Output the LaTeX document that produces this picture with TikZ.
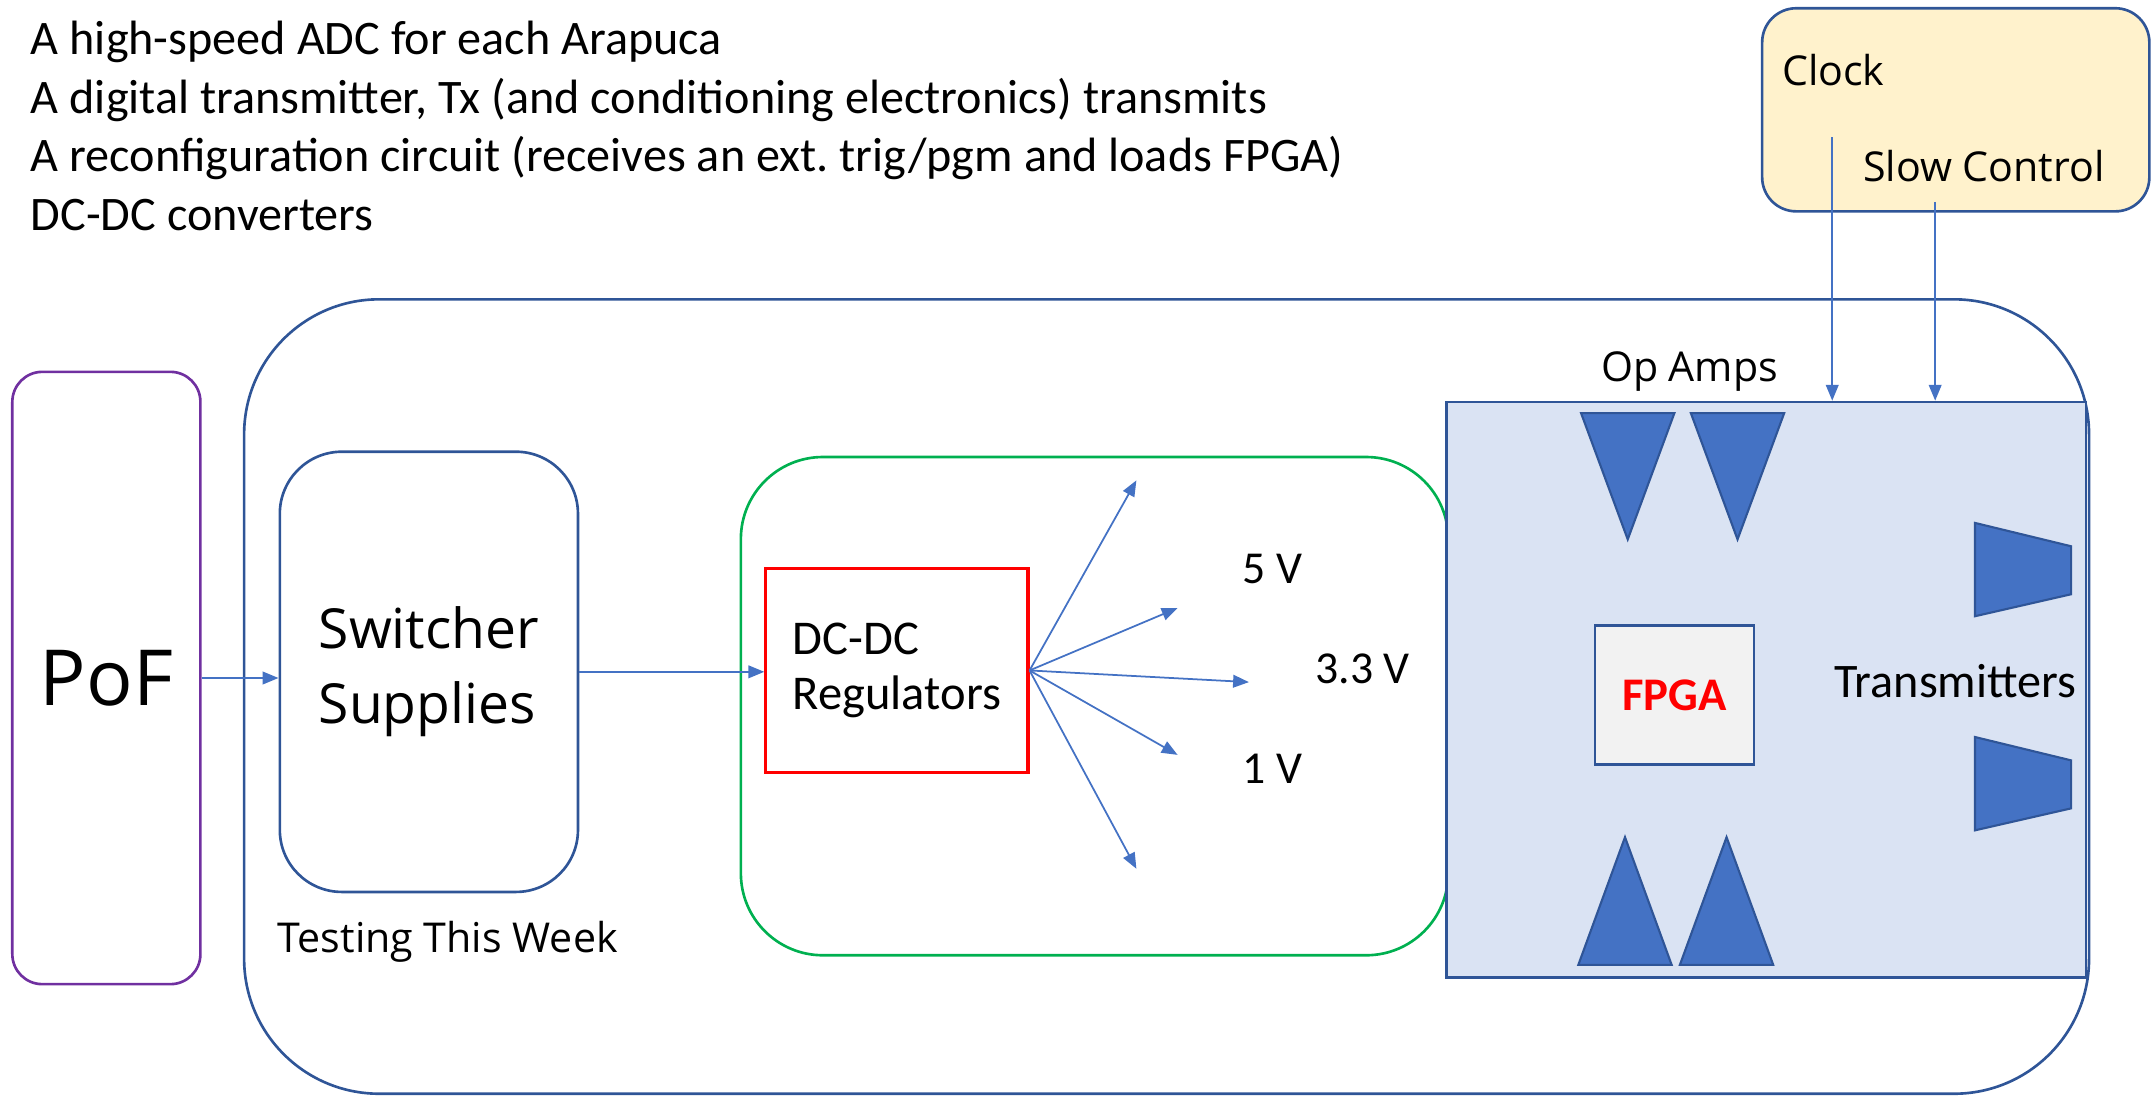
\documentclass[tikz,border=0pt]{standalone}
\usepackage{fontspec}
\setmainfont{Carlito}
\newfontfamily\opensans{Open Sans}
\usetikzlibrary{arrows.meta, positioning, calc}
\definecolor{arrblue}{RGB}{68,114,196}
\definecolor{edgeblue}{RGB}{47,85,151}
\definecolor{pofpurple}{RGB}{112,48,160}
\definecolor{reggreen}{RGB}{0,176,80}
\definecolor{panelbg}{RGB}{218,227,243}
\definecolor{fpgabg}{RGB}{242,242,242}
\definecolor{ctrlbg}{RGB}{255,242,204}
\tikzset{
  listtxt/.style={anchor=base west, inner sep=0pt, font=\fontsize{13.7}{16.4}\selectfont},
  voltlbl/.style={anchor=base west, inner sep=0pt, font=\fontsize{13}{15.6}\selectfont},
  sanslbl/.style={anchor=base west, inner sep=0pt, font=\opensans\fontsize{11.7}{14}\selectfont},
  pofbox/.style={draw=pofpurple, line width=0.75pt, rounded corners=0.3cm,
    minimum width=1.88cm, minimum height=6.12cm, font=\opensans\fontsize{22}{26}\selectfont},
  board/.style={draw=edgeblue, line width=0.75pt, rounded corners=1.35cm,
    minimum width=18.44cm, minimum height=7.94cm},
  supbox/.style={draw=edgeblue, line width=0.75pt, rounded corners=0.62cm,
    minimum width=2.98cm, minimum height=4.4cm, align=left,
    font=\opensans\fontsize{15.7}{21.4}\selectfont},
  regarea/.style={draw=reggreen, line width=0.75pt, rounded corners=0.82cm,
    minimum width=7.07cm, minimum height=4.98cm},
  regbox/.style={draw=red, line width=0.9pt, minimum width=2.62cm,
    minimum height=2.04cm, align=left, font=\fontsize{13.8}{15.6}\selectfont},
  panel/.style={draw=edgeblue, fill=panelbg, line width=0.75pt,
    minimum width=6.39cm, minimum height=5.75cm},
  fpgabox/.style={draw=edgeblue, fill=fpgabg, line width=0.75pt,
    minimum width=1.59cm, minimum height=1.39cm, text=red,
    font=\bfseries\fontsize{13.3}{16}\selectfont},
  ctrlbox/.style={draw=edgeblue, fill=ctrlbg, line width=0.75pt,
    rounded corners=0.34cm, minimum width=3.87cm, minimum height=2.03cm},
  amp/.style={draw=edgeblue, fill=arrblue, line width=0.6pt, line join=miter},
  arr/.style={-{Triangle[length=4.5pt, width=3.6pt]}, arrblue, line width=0.5pt},
}

\begin{document}
\begin{tikzpicture}[x=0.01372cm, y=-0.01372cm]
\useasboundingbox (0,0) rectangle (1568,798);

% list at the top
\node[listtxt] (adc) at (22,40) {A high-speed ADC for each Arapuca};
\node[listtxt] (txline) at (22,83) {A digital transmitter, Tx (and conditioning electronics) transmits};
\node[listtxt] (reconf) at (22,125) {A reconfiguration circuit (receives an ext.\ trig/pgm and loads FPGA)};
\node[listtxt] (dcconv) at (22,168) {DC-DC converters};

% boxes
\node[board] (board) at (850,507.5) {};
\node[pofbox] (pof) at (77.5,494) {PoF};
\node[supbox] (switcher) at (312.5,489.5) {Switcher\\Supplies};
\node[sanslbl] (testing) at (202,694) {Testing This Week};
\node[regarea] (regarea) at (797.5,514.5) {};
\node[regbox] (dcdc) at (653.5,488.5) {DC-DC\\Regulators};
\node[panel] (panel) at (1287,502.5) {};
\node[fpgabox] (fpga) at (1220,506.5) {FPGA};
\node[ctrlbox] (ctrl) at (1425,80) {};

% op amps and transmitters
\foreach \x in {1152,1232}
  \draw[amp] (\x,301) -- ++(68,0) -- ++(-34,92) -- cycle;
\foreach \x in {1150,1224}
  \draw[amp] (\x,703) -- ++(68,0) -- ++(-34,-93) -- cycle;
\foreach \y in {381,537}
  \draw[amp] (1439,\y) -- (1509,\y+17) -- (1509,\y+52) -- (1439,\y+68) -- cycle;

% labels
\node[sanslbl] (opamps) at (1166,278) {Op Amps};
\node[listtxt] (txlbl) at (1336,508) {Transmitters};
\node[voltlbl] (fivev) at (905,425) {5 V};
\node[voltlbl] (threev) at (958,498) {3.3 V};
\node[voltlbl] (onev) at (905,571) {1 V};
\node[sanslbl] (clocklbl) at (1298,62) {Clock};
\node[sanslbl] (slowlbl) at (1357,132) {Slow Control};

% power path
\draw[arr] (pof.east) -- (pof.east -| switcher.west);
\draw[arr] (switcher.east) -- (switcher.east -| dcdc.west);

% regulator outputs
\coordinate (out1) at (828,350);
\coordinate (out2) at (858,443);
\coordinate (out3) at (910,497);
\coordinate (out4) at (858,550);
\coordinate (out5) at (828,633);
\foreach \n in {1,...,5}
  \draw[arr] (dcdc.east) -- (out\n);

% clock and slow control
\coordinate (clk) at (1335,100);
\coordinate (slw) at (1410,147);
\draw[arr] (clk) -- (clk |- panel.north);
\draw[arr] (slw) -- (slw |- panel.north);

\end{tikzpicture}
\end{document}
